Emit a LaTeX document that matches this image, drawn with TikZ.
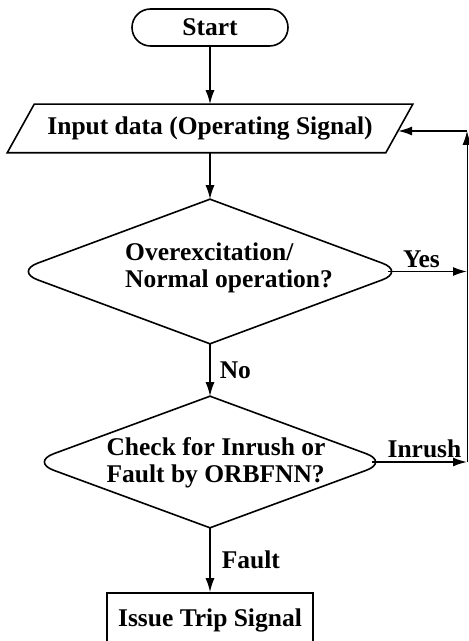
\documentclass[tikz,border=0pt]{standalone}
\usepackage{fontspec}
\setmainfont{Liberation Serif}
\usetikzlibrary{shapes.geometric,arrows.meta}

\begin{document}
\begin{tikzpicture}[x=0.5pt,y=-0.5pt,
  font=\fontsize{12.75}{13.5}\selectfont\bfseries,
  line width=0.8pt,
  term/.style={draw,rectangle,rounded corners=9.25pt,minimum width=78pt,minimum height=18.5pt,inner sep=0pt},
  io/.style={rectangle,minimum width=202pt,minimum height=23.5pt,inner sep=0pt},
  decision/.style={diamond,inner sep=0pt},
  process/.style={draw,rectangle,minimum width=103pt,minimum height=27pt,inner sep=0pt},
  flow/.style={-{Latex[length=7pt,width=4.5pt]}},
  lbl/.style={inner sep=1.5pt}]
\useasboundingbox (0,0) rectangle (469,641);

\node[term](start) at (210,27.5) {Start};
\node[io](input) at (210,128.5) {Input data (Operating Signal)};
\draw ([xshift=13.5pt]input.north west) -- (input.north east)
  -- ([xshift=-13.5pt]input.south east) -- (input.south west) -- cycle;
\node[decision,minimum width=194pt,minimum height=71.5pt](check1) at (210,271.5) {};
\node[align=left](q1) at (229,268) {Overexcitation/\\Normal operation?};
\node[decision,minimum width=178pt,minimum height=65pt](check2) at (210,462) {};
\node[align=left](q2) at (216,463) {Check for Inrush or\\Fault by ORBFNN?};
\node[process](trip) at (210,620) {Issue Trip Signal};

% diamonds, rounded only at the side corners
\foreach \d in {check1,check2}{
  \draw[rounded corners=12pt,line cap=round] (\d.north) -- (\d.east) -- (\d.south);
  \draw[rounded corners=12pt,line cap=round] (\d.north) -- (\d.west) -- (\d.south);
}

% return path on the right
\coordinate (tip1) at ([xshift=-8.2pt]check1.east);
\coordinate (tip2) at ([xshift=-8.2pt]check2.east);
\coordinate (yesend) at (467,271.5);
\coordinate (inend) at (467,462);
\coordinate (corner) at (467,131);
\coordinate (back) at (398,131);

\draw[flow] (start) -- (input);
\draw[flow] (input) -- (check1);
\draw[flow] (check1) -- node[lbl,right=3pt](no){No} (check2);
\draw[flow] (check2) -- node[lbl,right=4pt](fault){Fault} (trip);
\draw[flow] (tip1) -- node[lbl,above,pos=0.42](yes){Yes} (yesend);
\draw[flow] (tip2) -- node[lbl,above,pos=0.55](inrush){Inrush} (inend);
\draw[flow,line width=0.5pt] (inend) -- (corner);
\draw[flow] (corner) -- (back);
\end{tikzpicture}
\end{document}
